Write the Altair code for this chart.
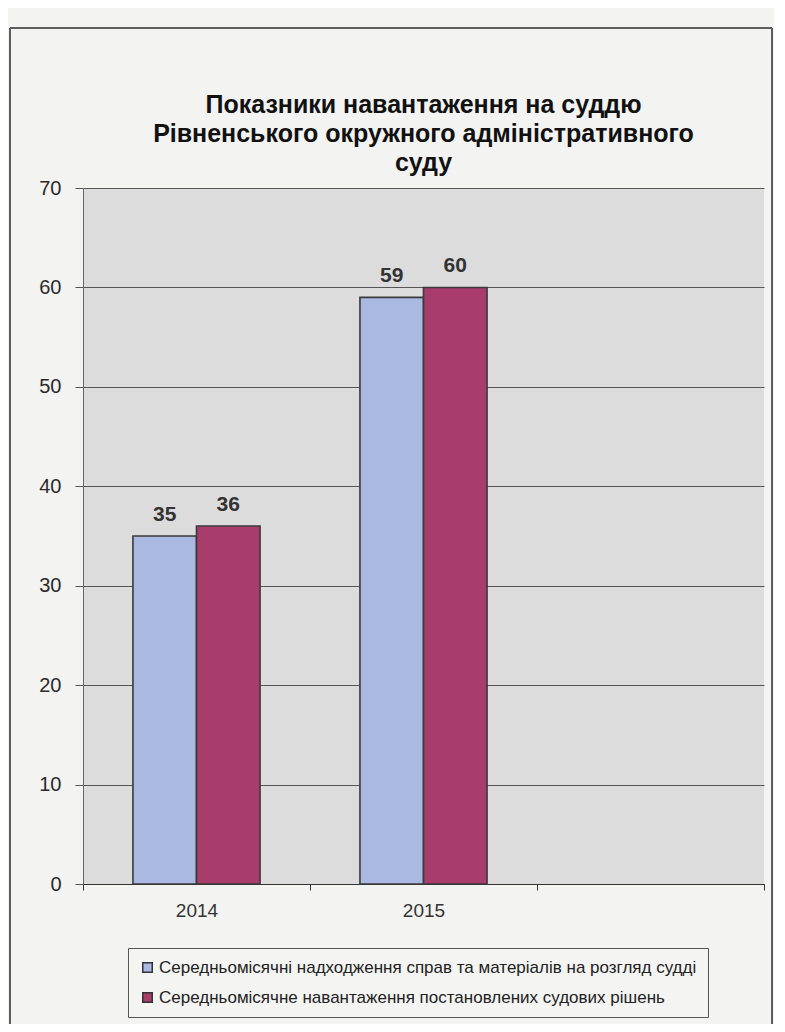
import altair as alt
import pandas as pd

title_lines = ["Показники навантаження на суддю",
               "Рівненського окружного адміністративного",
               "суду"]
x_categories = ["2014", "2015", " "]
years = ["2014", "2015"]
series = ["Середньомісячні надходження справ та матеріалів на розгляд судді",
          "Середньомісячне навантаження постановлених судових рішень"]
incoming = [35, 59]
decisions = [36, 60]
colors = ["#aab9e2", "#a83d6c"]
y_ticks = [0, 10, 20, 30, 40, 50, 60, 70]

rows = []
for i, yr in enumerate(years):
    rows.append({"year": yr, "series": series[0], "value": incoming[i]})
    rows.append({"year": yr, "series": series[1], "value": decisions[i]})
df = pd.DataFrame(rows)

FONT = "Liberation Sans"

x_scale = alt.Scale(domain=x_categories, paddingInner=0, paddingOuter=0)
x_enc = alt.X("year:N", scale=x_scale,
              axis=alt.Axis(title=None, labelAngle=0, tickBand="extent", grid=False,
                            labelFontSize=19, labelColor="#333", labelFont=FONT, labelPadding=11,
                            domainColor="#333", tickColor="#333", tickSize=6, domainWidth=1.2))
xo_enc = alt.XOffset("series:N", scale=alt.Scale(domain=series, paddingInner=0, paddingOuter=0.786))
y_enc = alt.Y("value:Q", scale=alt.Scale(domain=[0, 70], nice=False),
              axis=alt.Axis(title=None, values=y_ticks, grid=True, gridColor="#555", gridWidth=1,
                            labelFontSize=20, labelColor="#2a2a2a", labelFont=FONT, labelPadding=14,
                            domainColor="#666", tickColor="#555", tickSize=8))

bars = alt.Chart(df).mark_bar(stroke="#3a3a3a", strokeWidth=1.6).encode(
    x=x_enc, xOffset=xo_enc, y=y_enc,
    color=alt.Color("series:N", scale=alt.Scale(domain=series, range=colors),
                    legend=alt.Legend(title=None, orient="none", legendX=45, legendY=760,
                                      direction="vertical", symbolType="square", symbolSize=90,
                                      symbolStrokeColor="#333", symbolStrokeWidth=1.5,
                                      labelFontSize=17, labelFont=FONT, labelColor="#222",
                                      labelLimit=700, rowPadding=12, padding=11,
                                      strokeColor="#555", fillColor="#f4f4f2",
                                      symbolOffset=0, labelOffset=3))
)

labels = alt.Chart(df).mark_text(dy=-21, fontSize=21, fontWeight="bold", font=FONT, color="#333").encode(
    x=alt.X("year:N", scale=x_scale),
    xOffset=xo_enc,
    y=alt.Y("value:Q"),
    text=alt.Text("value:Q")
)

frame = alt.Chart(df).mark_rect(fill=None, stroke="#555", strokeWidth=1).encode(
    x=alt.value(-73), x2=alt.value(689), y=alt.value(-160), y2=alt.value(860)
)

chart = alt.layer(frame, bars, labels).properties(
    width=681, height=696,
    autosize=alt.AutoSizeParams(type="none"),
    padding={"left": 75, "top": 180, "right": 10, "bottom": 140},
    background="#f3f3f1",
    title=alt.Title(title_lines, font=FONT, fontSize=25, fontWeight="bold", color="#111",
                    anchor="middle", frame="group", lineHeight=29, offset=-148)
).configure_view(fill="#dcdcdc", stroke=None)

chart.save("out.html", embed_options={"renderer": "svg", "actions": False})
